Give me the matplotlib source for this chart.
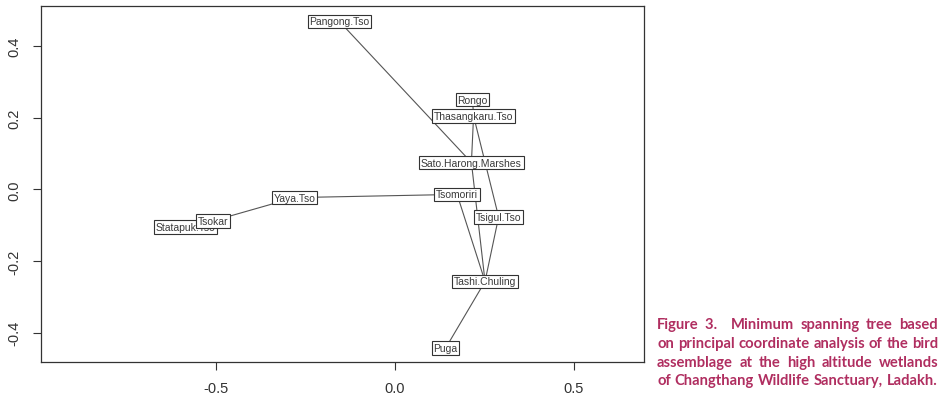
import matplotlib
matplotlib.use("Agg")
import matplotlib.pyplot as plt

# ---- data ----
sites = ["Pangong.Tso", "Rongo", "Thasangkaru.Tso", "Sato.Harong.Marshes",
         "Tsomoriri", "Tsigul.Tso", "Tashi.Chuling", "Puga",
         "Yaya.Tso", "Statapuk.Tso", "Tsokar"]
pco1 = [-0.155, 0.217, 0.220, 0.214, 0.174, 0.290, 0.252, 0.142,
        -0.280, -0.585, -0.508]
pco2 = [0.469, 0.250, 0.205, 0.075, -0.014, -0.077, -0.257, -0.443,
        -0.023, -0.105, -0.088]
edges = [("Pangong.Tso", "Sato.Harong.Marshes"),
         ("Rongo", "Thasangkaru.Tso"),
         ("Thasangkaru.Tso", "Sato.Harong.Marshes"),
         ("Thasangkaru.Tso", "Tsigul.Tso"),
         ("Sato.Harong.Marshes", "Tashi.Chuling"),
         ("Tsomoriri", "Tashi.Chuling"),
         ("Tsigul.Tso", "Tashi.Chuling"),
         ("Tashi.Chuling", "Puga"),
         ("Tsomoriri", "Yaya.Tso"),
         ("Yaya.Tso", "Tsokar"),
         ("Tsokar", "Statapuk.Tso")]
xticks = [-0.5, 0.0, 0.5]
yticks = [-0.4, -0.2, 0.0, 0.2, 0.4]
caption_lines = [["Figure", "3.  ", "Minimum", "spanning", "tree", "based"],
                 "on principal coordinate analysis of the bird".split(),
                 "assemblage at the high altitude wetlands".split(),
                 "of Changthang Wildlife Sanctuary, Ladakh.".split()]

W, H, DPI = 939, 406, 100
fig = plt.figure(figsize=(W / DPI, H / DPI), dpi=DPI)
ax = fig.add_axes([40.7 / W, 1 - 362.7 / H, (644 - 40.7) / W, (362.7 - 7.3) / H])

pos = {n: (x, y) for n, x, y in zip(sites, pco1, pco2)}
for a, b in edges:
    ax.plot([pos[a][0], pos[b][0]], [pos[a][1], pos[b][1]],
            color="#555555", lw=0.8, zorder=1)

for i, (n, x, y) in enumerate(zip(sites, pco1, pco2)):
    ax.text(x, y, n, ha="center", va="center", fontsize=7.5,
            family="Liberation Sans", color="#3a3a3a", zorder=2 + i,
            bbox=dict(boxstyle="square,pad=0.16", fc="white",
                      ec="#333333", lw=0.8))

ax.set_xlim(-0.989, 0.696)
ax.set_ylim(-0.481, 0.511)
ax.set_xticks(xticks)
ax.set_xticklabels(["-0.5", "0.0", "0.5"])
ax.set_yticks(yticks)
ax.set_yticklabels(["-0.4", "-0.2", "0.0", "0.2", "0.4"], rotation=90, va="center")
ax.tick_params(axis="both", length=6, width=0.8, color="#333333",
               labelsize=10.5, labelcolor="#333333")
ax.tick_params(axis="x", pad=8)
ax.tick_params(axis="y", pad=8)
for lab in ax.get_xticklabels() + ax.get_yticklabels():
    lab.set_family("Liberation Sans")
for s in ax.spines.values():
    s.set_color("#333333")
    s.set_linewidth(0.9)

# ---- justified caption ----
fig.canvas.draw()
renderer = fig.canvas.get_renderer()
x_left, x_right = 657.0, 938.0
line_y = [325, 344, 363, 381]
cap_color = "#B02E60"
for words, yc in zip(caption_lines, line_y):
    texts = []
    for w in words:
        t = fig.text(0, 0, w, fontsize=10.6, family="Lato", weight="bold",
                     color=cap_color, va="center", ha="left")
        texts.append(t)
    fig.canvas.draw()
    widths = [t.get_window_extent(renderer).width for t in texts]
    gap = (x_right - x_left - sum(widths)) / max(len(words) - 1, 1)
    cx = x_left
    for t, wd in zip(texts, widths):
        t.set_position((cx / W, 1 - yc / H))
        cx += wd + gap

fig.savefig("out.png", dpi=DPI)
